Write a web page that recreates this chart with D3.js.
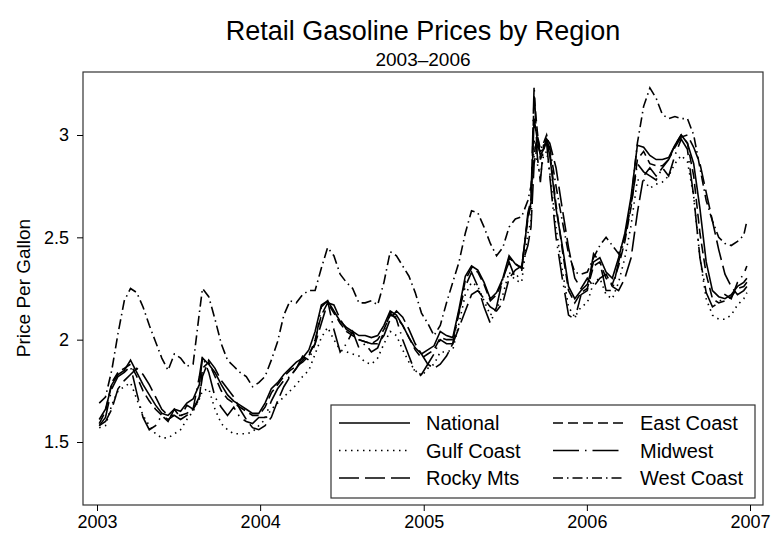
<!DOCTYPE html>
<html>
<head>
<meta charset="utf-8">
<script src="https://cdn.jsdelivr.net/npm/d3@7"></script>
<style>
body { margin: 0; background: #fff; }
svg { font-family: "Liberation Sans", Arial, Helvetica, sans-serif; }
</style>
</head>
<body>
<svg width="774" height="538"></svg>
<script>
var weeks = [
    '2003-01-06','2003-01-20','2003-02-03','2003-02-17','2003-03-03','2003-03-17','2003-03-31',
    '2003-04-14','2003-04-28','2003-05-12','2003-05-26','2003-06-09','2003-06-23','2003-07-07',
    '2003-07-21','2003-08-04','2003-08-18','2003-08-25','2003-09-08','2003-09-22','2003-10-06',
    '2003-10-20','2003-11-03','2003-11-17','2003-12-01','2003-12-15','2003-12-29',
    '2004-01-12','2004-01-26','2004-02-09','2004-02-23','2004-03-08','2004-03-22','2004-04-05',
    '2004-04-19','2004-05-03','2004-05-17','2004-05-31','2004-06-14','2004-06-28','2004-07-12',
    '2004-07-26','2004-08-09','2004-08-23','2004-09-06','2004-09-20','2004-10-04','2004-10-18',
    '2004-11-01','2004-11-15','2004-11-29','2004-12-13','2004-12-27',
    '2005-01-10','2005-01-24','2005-02-07','2005-02-21','2005-03-07','2005-03-21','2005-04-04',
    '2005-04-18','2005-05-02','2005-05-16','2005-05-30','2005-06-13','2005-06-27','2005-07-11',
    '2005-07-25','2005-08-08','2005-08-22','2005-08-29','2005-09-05','2005-09-12','2005-09-19',
    '2005-09-26','2005-10-03','2005-10-10','2005-10-24','2005-11-07','2005-11-21','2005-12-05',
    '2005-12-19',
    '2006-01-02','2006-01-16','2006-01-30','2006-02-13','2006-02-27','2006-03-13','2006-03-27',
    '2006-04-10','2006-04-24','2006-05-08','2006-05-22','2006-06-05','2006-06-19','2006-07-03',
    '2006-07-17','2006-07-31','2006-08-14','2006-08-28','2006-09-11','2006-09-25','2006-10-09',
    '2006-10-23','2006-11-06','2006-11-20','2006-12-04','2006-12-18','2006-12-25'
];

var national = [
    1.61,1.66,1.78,1.83,1.85,1.90,1.84,1.78,1.73,1.68,1.64,1.63,1.66,1.65,1.69,1.71,1.78,1.91,1.88,1.84,1.78,1.73,1.70,1.68,1.66,1.64,1.64,
    1.69,1.76,1.79,1.83,1.86,1.89,1.91,1.95,2.04,2.17,2.19,2.14,2.09,2.06,2.04,2.02,2.02,2.01,2.02,2.07,2.14,2.12,2.07,2.01,1.96,1.93,
    1.95,1.97,2.04,2.02,2.01,2.15,2.31,2.36,2.34,2.28,2.20,2.23,2.30,2.41,2.37,2.35,2.60,2.67,3.08,2.98,2.90,2.93,2.97,2.90,2.64,2.46,2.26,2.20,2.24,
    2.27,2.38,2.40,2.33,2.30,2.40,2.52,2.70,2.95,2.94,2.90,2.88,2.88,2.89,2.95,3.00,2.96,2.86,2.64,2.38,2.24,2.21,2.20,2.22,2.26,2.28,2.30
];
var eastCoast = [
    1.59,1.65,1.79,1.84,1.86,1.88,1.82,1.75,1.70,1.66,1.63,1.61,1.63,1.63,1.64,1.66,1.71,1.86,1.89,1.82,1.75,1.71,1.69,1.67,1.65,1.63,1.63,
    1.67,1.74,1.78,1.82,1.85,1.87,1.89,1.92,2.00,2.12,2.18,2.13,2.08,2.04,2.02,2.00,1.99,1.98,2.00,2.05,2.12,2.11,2.07,2.01,1.95,1.91,
    1.93,1.95,2.01,2.00,2.00,2.13,2.29,2.35,2.33,2.27,2.19,2.22,2.29,2.40,2.37,2.35,2.59,2.66,3.19,3.02,2.88,2.92,2.99,2.92,2.66,2.44,2.24,2.18,2.23,
    2.25,2.36,2.38,2.30,2.27,2.36,2.48,2.65,2.88,2.92,2.86,2.85,2.85,2.88,2.95,3.00,2.96,2.80,2.52,2.32,2.20,2.18,2.19,2.21,2.25,2.26,2.28
];
var gulfCoast = [
    1.57,1.58,1.68,1.75,1.77,1.79,1.71,1.63,1.58,1.54,1.52,1.52,1.54,1.56,1.61,1.65,1.71,1.75,1.76,1.66,1.59,1.56,1.54,1.54,1.54,1.55,1.58,
    1.61,1.66,1.69,1.72,1.75,1.78,1.82,1.85,1.93,2.01,2.06,2.00,1.95,1.94,1.93,1.92,1.89,1.88,1.91,1.98,2.04,2.02,1.95,1.89,1.85,1.82,
    1.86,1.88,1.94,1.94,1.95,2.08,2.22,2.28,2.26,2.19,2.12,2.15,2.22,2.33,2.29,2.28,2.52,2.58,2.98,2.86,2.80,2.90,2.92,2.82,2.55,2.34,2.16,2.11,2.16,
    2.18,2.28,2.30,2.22,2.20,2.28,2.40,2.56,2.78,2.78,2.74,2.76,2.77,2.80,2.86,2.90,2.87,2.70,2.40,2.20,2.12,2.10,2.10,2.12,2.17,2.20,2.23
];
var midwest = [
    1.58,1.62,1.76,1.82,1.84,1.87,1.74,1.62,1.56,1.58,1.63,1.60,1.66,1.62,1.68,1.66,1.82,1.92,1.84,1.72,1.67,1.63,1.67,1.62,1.60,1.59,1.62,
    1.62,1.70,1.76,1.80,1.82,1.86,1.92,1.90,1.98,2.16,2.19,2.05,1.94,1.98,2.04,1.96,1.98,1.94,1.96,2.04,2.13,2.10,2.00,1.92,1.84,1.83,
    1.88,1.93,2.00,1.98,1.98,2.14,2.26,2.33,2.26,2.16,2.08,2.16,2.30,2.38,2.30,2.33,2.62,2.68,3.24,2.90,2.77,2.95,2.96,2.80,2.50,2.30,2.12,2.10,2.22,
    2.24,2.42,2.38,2.24,2.24,2.38,2.50,2.66,2.86,2.82,2.80,2.78,2.84,2.80,2.90,2.98,2.93,2.70,2.40,2.23,2.16,2.18,2.22,2.20,2.28,2.32,2.36
];
var rockyMts = [
    1.58,1.60,1.66,1.76,1.80,1.83,1.86,1.83,1.78,1.72,1.66,1.63,1.63,1.61,1.63,1.66,1.72,1.82,1.90,1.86,1.80,1.76,1.72,1.66,1.61,1.57,1.56,
    1.58,1.62,1.70,1.77,1.82,1.86,1.90,1.93,1.98,2.08,2.18,2.17,2.10,2.05,2.03,2.00,1.99,1.98,1.98,2.02,2.10,2.14,2.11,2.05,1.98,1.93,
    1.88,1.86,1.88,1.92,1.98,2.06,2.14,2.22,2.24,2.20,2.16,2.14,2.18,2.30,2.34,2.36,2.46,2.55,2.86,2.95,2.92,2.93,2.98,2.96,2.84,2.64,2.45,2.30,2.25,
    2.30,2.26,2.30,2.32,2.26,2.24,2.30,2.40,2.62,2.80,2.84,2.80,2.84,2.88,2.94,2.99,3.00,2.94,2.86,2.72,2.58,2.44,2.32,2.26,2.22,2.24,2.26
];
var westCoast = [
    1.69,1.72,1.85,2.03,2.19,2.25,2.23,2.16,2.07,1.99,1.91,1.85,1.93,1.91,1.87,1.88,2.13,2.25,2.21,2.10,1.98,1.90,1.87,1.84,1.82,1.77,1.79,
    1.82,1.90,1.99,2.12,2.19,2.18,2.22,2.24,2.24,2.35,2.45,2.41,2.32,2.28,2.25,2.18,2.18,2.19,2.17,2.28,2.43,2.41,2.36,2.31,2.23,2.13,
    2.08,2.02,2.07,2.18,2.28,2.38,2.52,2.63,2.62,2.55,2.47,2.41,2.45,2.55,2.59,2.60,2.68,2.75,2.90,3.00,2.93,2.96,3.00,2.94,2.75,2.58,2.42,2.33,2.32,
    2.33,2.40,2.46,2.50,2.46,2.42,2.50,2.68,2.96,3.14,3.23,3.18,3.10,3.08,3.09,3.08,3.08,3.00,2.84,2.68,2.58,2.50,2.47,2.46,2.48,2.51,2.58
];

var regionNames = ['National', 'East Coast', 'Gulf Coast', 'Midwest', 'Rocky Mts', 'West Coast'];
var regionValues = [national, eastCoast, gulfCoast, midwest, rockyMts, westCoast];
var yTicks = [1.5, 2, 2.5, 3];
var xTicks = ['2003', '2004', '2005', '2006', '2007'];

// line patterns, stata style
var dashes = ['none', '10,5', '1.5,4.5', '26,6,1.5,6', '20,6', '10,4,1.5,4'];

var svg = d3.select('svg');
var frame = {l: 83, r: 763, t: 72, b: 505};

var parseDay = d3.utcParse('%Y-%m-%d');
var parseYear = d3.utcParse('%Y');

var xScale = d3.scaleUtc()
    .domain([parseYear('2003'), parseYear('2007')])
    .range([97, 750]);
var yScale = d3.scaleLinear()
    .domain([1.5, 3])
    .range([442, 135]);

// titles
svg.append('text')
    .attr('x', 423).attr('y', 40)
    .attr('text-anchor', 'middle')
    .style('font-size', '27px')
    .text('Retail Gasoline Prices by Region');
svg.append('text')
    .attr('x', 423).attr('y', 66)
    .attr('text-anchor', 'middle')
    .style('font-size', '19px')
    .text('2003\u20132006');

// plot region box
svg.append('rect')
    .attr('x', frame.l).attr('y', frame.t)
    .attr('width', frame.r - frame.l).attr('height', frame.b - frame.t)
    .attr('fill', 'none')
    .attr('stroke', '#333')
    .attr('stroke-width', 1.2);

// axes
var yAxisG = svg.append('g')
    .attr('transform', 'translate(' + [frame.l, 0] + ')')
    .call(d3.axisLeft(yScale).tickValues(yTicks).tickSize(6).tickPadding(8).tickFormat(d3.format('~g')));
var xAxisG = svg.append('g')
    .attr('transform', 'translate(' + [0, frame.b] + ')')
    .call(d3.axisBottom(xScale).tickValues(xTicks.map(parseYear)).tickSize(6).tickPadding(4)
        .tickFormat(d3.utcFormat('%Y')));

[yAxisG, xAxisG].forEach(function(g) {
    g.select('.domain').remove();
    g.selectAll('.tick line').attr('stroke', '#000').attr('stroke-width', 1);
    g.selectAll('.tick text')
        .attr('fill', '#000')
        .style('font-family', '"Liberation Sans", Arial, sans-serif')
        .style('font-size', '18px');
});

svg.append('text')
    .attr('transform', 'translate(30,288) rotate(-90)')
    .attr('text-anchor', 'middle')
    .style('font-size', '19px')
    .text('Price Per Gallon');

// series lines
var line = d3.line()
    .x(function(d, i) { return xScale(parseDay(weeks[i])); })
    .y(function(d) { return yScale(d); });

svg.append('g')
    .selectAll('path')
    .data(regionValues)
    .enter()
    .append('path')
    .attr('d', line)
    .attr('fill', 'none')
    .attr('stroke', '#000')
    .attr('stroke-width', 1.6)
    .attr('stroke-dasharray', function(d, i) { return dashes[i]; });

// legend, two columns
var legend = svg.append('g');
legend.append('rect')
    .attr('x', 331).attr('y', 405)
    .attr('width', 424).attr('height', 93)
    .attr('fill', '#fff')
    .attr('stroke', '#333')
    .attr('stroke-width', 1.2);

var items = legend.selectAll('.item')
    .data(regionNames)
    .enter()
    .append('g')
    .attr('class', 'item')
    .attr('transform', function(d, i) {
        var col = i % 2, row = Math.floor(i / 2);
        return 'translate(' + [339 + col * 214, 423 + row * 27.5] + ')';
    });

items.append('line')
    .attr('x1', 0).attr('x2', 71)
    .attr('stroke', '#000')
    .attr('stroke-width', 1.4)
    .attr('stroke-dasharray', function(d, i) { return dashes[i]; });

items.append('text')
    .attr('x', 87).attr('y', 7)
    .style('font-size', '20px')
    .text(function(d) { return d; });
</script>
</body>
</html>
